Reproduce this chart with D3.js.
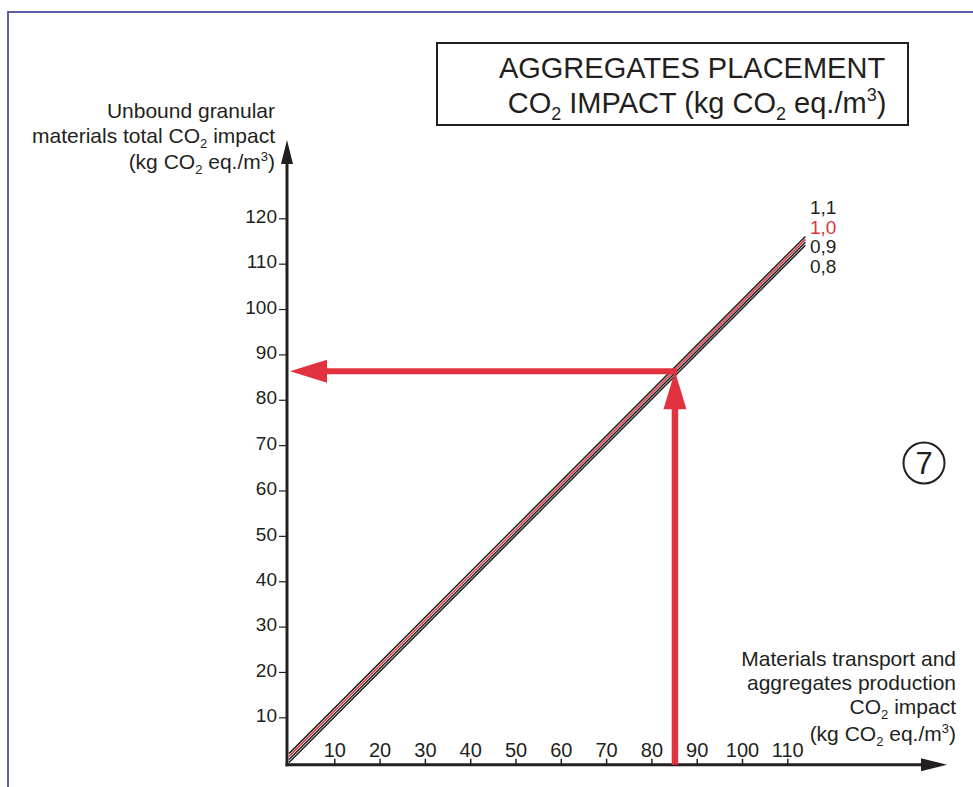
<!DOCTYPE html>
<html>
<head>
<meta charset="utf-8">
<style>
  body { margin: 0; background: #fff; }
  text { font-family: "Liberation Sans", Arial, sans-serif; fill: #231f20; }
</style>
</head>
<body>
<script src="https://cdn.jsdelivr.net/npm/d3@7"></script>
<script>

// values
var xTicks = [10, 20, 30, 40, 50, 60, 70, 80, 90, 100, 110];
var yTicks = [10, 20, 30, 40, 50, 60, 70, 80, 90, 100, 110, 120];
var factors = ["1,1", "1,0", "0,9", "0,8"];
var offsets = [2.0, 1.35, 0.7, 0.05];   // total = production + offset
var lineEndX = 114;
var readX = 85.2, readY = 86.3;       // the worked example (red arrows)

var dark = "#231f20", red = "#e2323f";

var svg = d3.select("body").append("svg")
    .attr("width", 973)
    .attr("height", 787);

// outer frame
svg.append("rect")
    .attr("x", 8).attr("y", 12)
    .attr("width", 1000).attr("height", 800)
    .attr("fill", "none")
    .attr("stroke", "#5b5fab")
    .attr("stroke-width", 2);

var x = d3.scaleLinear().domain([0, 110]).range([289, 787.3]);
var y = d3.scaleLinear().domain([0, 120]).range([762.7, 218.3]);

var ax = x(0) - 2, ay = y(0) + 2;

// text with sub/superscripts: parts = [[str, mode], ...]
function rich(sel, parts) {
  parts.forEach(function(p) {
    var t = sel.append("tspan").text(p[0]);
    if (p[1] == "sub") t.attr("font-size", "0.62em").attr("baseline-shift", "-0.4em");
    if (p[1] == "sup") t.attr("font-size", "0.62em").attr("baseline-shift", "0.65em");
  });
  return sel;
}

// one text element per line, right aligned
function block(xr, ys, lines, size) {
  lines.forEach(function(parts, i) {
    rich(svg.append("text")
        .attr("x", xr).attr("y", ys[i])
        .attr("text-anchor", "end").attr("font-size", size), parts);
  });
}

// x axis
var gx = svg.append("g")
    .attr("transform", `translate(0,${ay})`)
    .call(d3.axisTop(x).tickValues(xTicks).tickSize(6).tickPadding(2));
gx.select(".domain").remove();
gx.selectAll(".tick line").attr("stroke", dark).attr("stroke-width", 1.5);
gx.selectAll(".tick text").attr("font-size", 20).attr("font-family", null).attr("fill", dark);

// y axis
var gy = svg.append("g")
    .attr("transform", `translate(${ax},0)`)
    .call(d3.axisLeft(y).tickValues(yTicks).tickSize(8).tickPadding(2));
gy.select(".domain").remove();
gy.selectAll(".tick line").attr("stroke", dark).attr("stroke-width", 1.2);
gy.selectAll(".tick text").attr("font-size", 19).attr("font-family", null)
    .attr("fill", dark).attr("dy", "0.22em");

// axis lines with arrow heads
svg.append("line")
    .attr("x1", ax - 1.5).attr("y1", ay).attr("x2", 925).attr("y2", ay)
    .attr("stroke", dark).attr("stroke-width", 3);
svg.append("path")
    .attr("d", `M947,${ay}L921,${ay - 6.5}L921,${ay + 6.5}Z`)
    .attr("fill", dark);
svg.append("line")
    .attr("x1", ax).attr("y1", ay + 1.5).attr("x2", ax).attr("y2", 160)
    .attr("stroke", dark).attr("stroke-width", 3);
svg.append("path")
    .attr("d", `M${ax},140L${ax - 6},164L${ax + 6},164Z`)
    .attr("fill", dark);

// the four factor lines
var line = d3.line().x(d => x(d[0])).y(d => y(d[1]));
svg.append("g").selectAll("path")
    .data(factors)
  .enter().append("path")
    .attr("d", (f, i) => line([[0, offsets[i]], [lineEndX, lineEndX + offsets[i]]]))
    .attr("fill", "none")
    .attr("stroke", f => f == "1,0" ? red : dark)
    .attr("stroke-width", 1.5);

svg.append("g").selectAll("text")
    .data(factors)
  .enter().append("text")
    .attr("x", 810)
    .attr("y", (f, i) => 214 + i * 19.5)
    .attr("font-size", 19)
    .style("fill", f => f == "1,0" ? red : dark)
    .text(f => f);

// red reading arrows
var px = x(readX), py = y(readY);
svg.append("line")
    .attr("x1", px).attr("y1", ay).attr("x2", px).attr("y2", py + 36)
    .attr("stroke", red).attr("stroke-width", 6.5);
svg.append("path")
    .attr("d", `M${px},${py}L${px - 11.5},${py + 38}L${px + 11.5},${py + 38}Z`)
    .attr("fill", red);
svg.append("line")
    .attr("x1", px + 2).attr("y1", py).attr("x2", x(0) + 36).attr("y2", py)
    .attr("stroke", red).attr("stroke-width", 6);
svg.append("path")
    .attr("d", `M${x(0) + 1},${py}L${x(0) + 38},${py - 11.5}L${x(0) + 38},${py + 11.5}Z`)
    .attr("fill", red);

// title box
svg.append("rect")
    .attr("x", 437).attr("y", 43).attr("width", 471).attr("height", 82)
    .attr("fill", "none").attr("stroke", dark).attr("stroke-width", 2);
svg.append("text")
    .attr("x", 692).attr("y", 78).attr("text-anchor", "middle").attr("font-size", 29)
    .text("AGGREGATES PLACEMENT");
rich(svg.append("text")
    .attr("x", 697).attr("y", 113).attr("text-anchor", "middle").attr("font-size", 29),
  [["CO"], ["2", "sub"], [" IMPACT (kg CO"], ["2", "sub"], [" eq./m"], ["3", "sup"], [")"]]);

// y axis title
block(275, [118, 143, 169], [
  [["Unbound granular"]],
  [["materials total CO"], ["2", "sub"], [" impact"]],
  [["(kg CO"], ["2", "sub"], [" eq./m"], ["3", "sup"], [")"]]
], 21);

// x axis title
block(956, [666, 690, 714, 741], [
  [["Materials transport and"]],
  [["aggregates production"]],
  [["CO"], ["2", "sub"], [" impact"]],
  [["(kg CO"], ["2", "sub"], [" eq./m"], ["3", "sup"], [")"]]
], 21);

// figure number
svg.append("circle")
    .attr("cx", 924).attr("cy", 463).attr("r", 20.5)
    .attr("fill", "none").attr("stroke", dark).attr("stroke-width", 2);
svg.append("text")
    .attr("x", 924).attr("y", 474).attr("text-anchor", "middle").attr("font-size", 31)
    .text("7");

</script>
</body>
</html>
